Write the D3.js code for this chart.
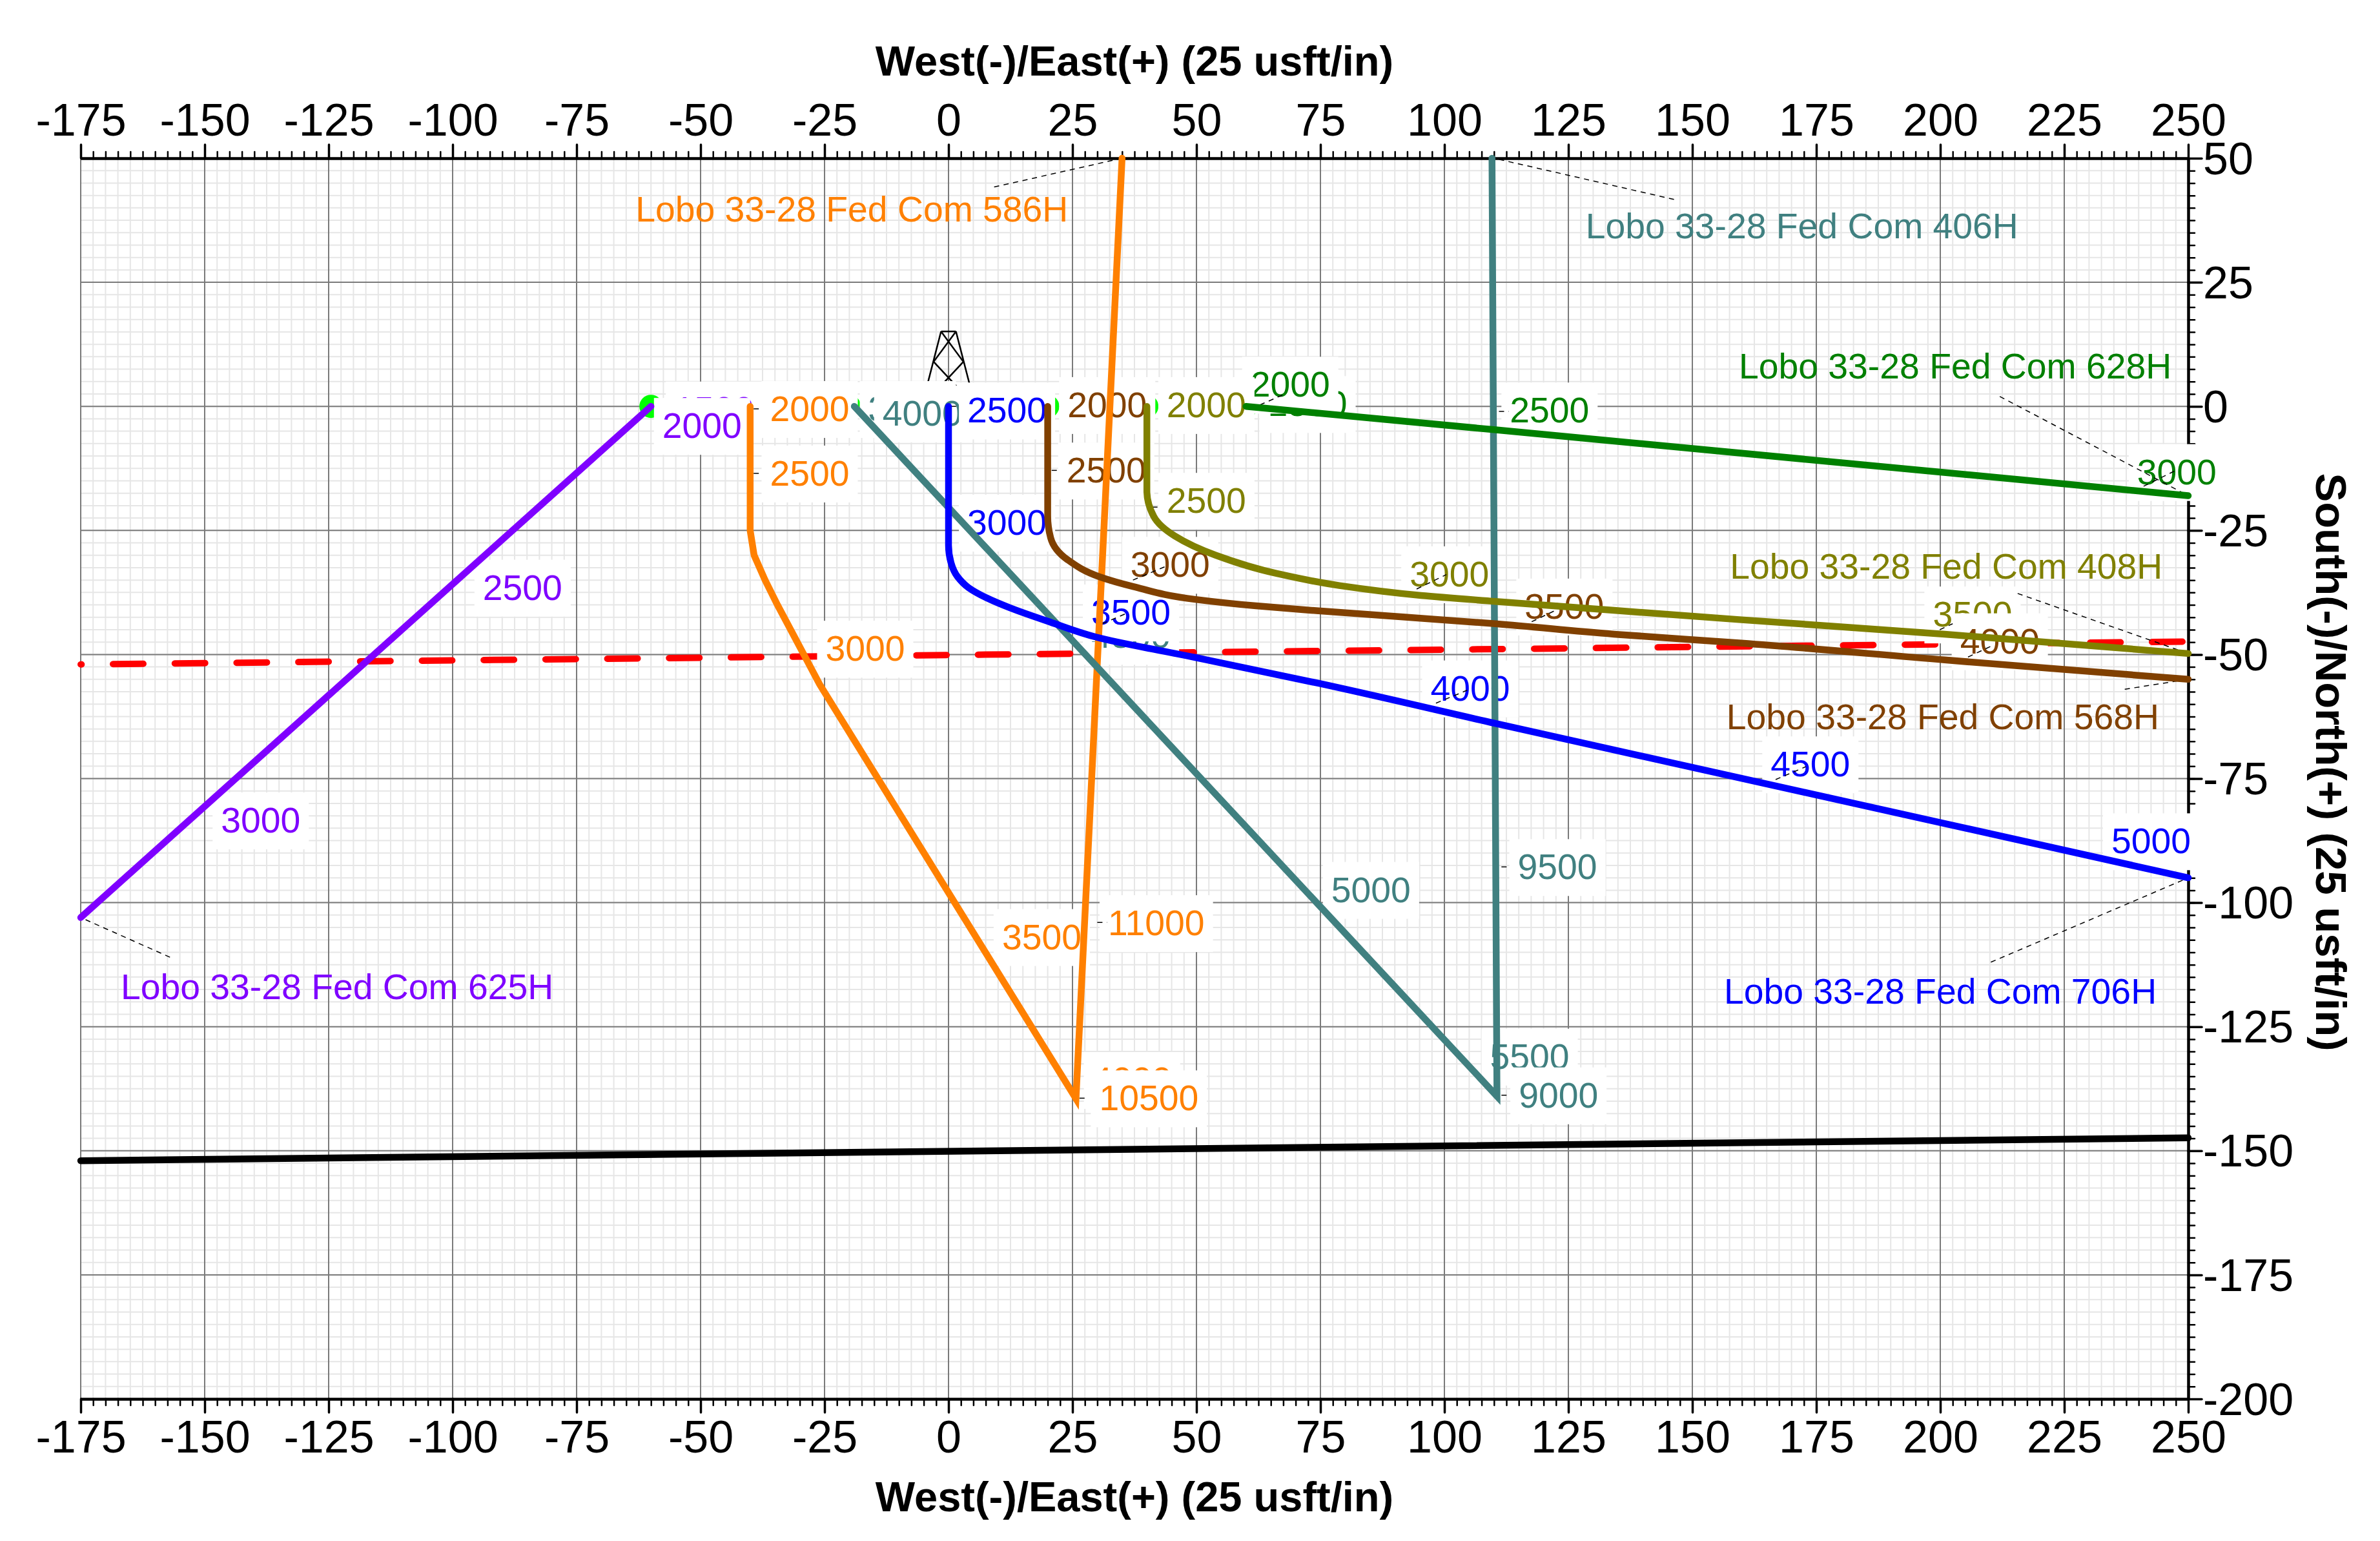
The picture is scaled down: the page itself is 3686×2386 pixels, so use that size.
<!DOCTYPE html>
<html>
<head>
<meta charset="utf-8">
<script src="https://cdn.jsdelivr.net/npm/d3@7/dist/d3.min.js"></script>
<style>
  html, body { margin: 0; padding: 0; background: #fff; }
  text { font-family: "Liberation Sans", Arial, sans-serif; }
</style>
</head>
<body>
<div id="chart"></div>
<script>
const xTicks = [-175, -150, -125, -100, -75, -50, -25, 0, 25, 50, 75, 100, 125, 150, 175, 200, 225, 250];
const yTicks = [50, 25, 0, -25, -50, -75, -100, -125, -150, -175, -200];
const xTitle = "West(-)/East(+) (25 usft/in)";
const yTitle = "South(-)/North(+) (25 usft/in)";

// well paths, [east, north]
const path625H = [[-60, 0], [-175, -103]];
const path586H = [[-40, 0], [-40, -25], [-39.2, -30], [-37, -35], [-34.5, -40], [-30.5, -47.5], [-26, -56], [25.7, -139.5], [35, 50]];
const path406H = [[-19, 0], [110.6, -139], [109.6, 50]];
const path706H = [[0, 0], [0, -28], [0.5, -31.5], [1.8, -34.3], [4, -36.5], [7.7, -38.6], [12.4, -40.6], [20.6, -43.5], [29.8, -46.5], [49.8, -50.6], [74.6, -55.8], [110.3, -63.9], [250, -95]];
const path568H = [[20, 0], [20, -22], [20.6, -26.5], [24, -30.9], [30.6, -34.4], [37.2, -36.3], [49.8, -38.9], [62, -40.2], [74.6, -41.2], [110.3, -43.8], [134.2, -45.9], [159.9, -47.7], [200.9, -51.1], [250, -55]];
const path408H = [[40, 0], [40, -17], [41.4, -22.2], [45.6, -26.1], [53.9, -30], [66.3, -33.7], [78.8, -36.1], [95.3, -38.1], [110.3, -39.3], [134.2, -41.1], [159.9, -43], [200.9, -45.9], [250, -49.8]];
const path628H = [[60, 0], [110, -4.7], [250, -18]];
const hardLineRed = [[-175, -52], [250, -47.4]];
const hardLineBlack = [[-175, -152], [250, -147.4]];

// surface holes, east offset along north = 0
const surfaceEast = [-60, -40, -20, 0, 20, 40, 60];

// depth labels, [text, east, north] of the label centre
const labels625H = [["1500", -47.3, -0.6], ["2000", -49.7, -3.9], ["2500", -85.9, -36.5], ["3000", -138.7, -83.4]];
const labels586H = [["2000", -28, -0.5], ["2500", -28, -13.5], ["3000", -16.8, -48.8], ["3500", 18.8, -106.9], ["11000", 41.9, -104.1], ["4000", 37, -135.7], ["10500", 40.4, -139.4]];
const labels406H = [["3500", -8.2, -0.5], ["4000", -5.3, -1.4], ["4500", 36.8, -46.2], ["5000", 85.2, -97.4], ["9500", 122.8, -92.8], ["5500", 117.2, -131], ["9000", 123, -138.8]];
const labels706H = [["2500", 11.8, -0.8], ["3000", 11.8, -23.4], ["3500", 36.8, -41.5], ["4000", 105.2, -56.8], ["4500", 173.8, -72.1], ["5000", 242.5, -87.6]];
const labels628H = [["1500", 72.4, 0.5], ["2000", 68.9, 4.4], ["2500", 121.2, -0.8], ["3000", 247.7, -13.2]];
const labels408H = [["2000", 52, 0.3], ["2500", 52, -19], ["3000", 101, -33.8], ["3500", 206.5, -41.9]];
const labels568H = [["2000", 32, 0.3], ["2500", 31.8, -12.9], ["3000", 44.7, -31.9], ["3500", 124.2, -40.3], ["4000", 212, -47.3]];

// well names, [text, east, north]
const wellNames = [
  ["Lobo 33-28 Fed Com 586H", -19.5, 39.7],
  ["Lobo 33-28 Fed Com 406H", 172.1, 36.3],
  ["Lobo 33-28 Fed Com 628H", 203, 8.1],
  ["Lobo 33-28 Fed Com 408H", 201.2, -32.2],
  ["Lobo 33-28 Fed Com 568H", 200.5, -62.6],
  ["Lobo 33-28 Fed Com 706H", 200, -117.9],
  ["Lobo 33-28 Fed Com 625H", -123.3, -117]
];
const wellColors = ["#ff8000", "#408080", "#008000", "#808000", "#804000", "#0000ff", "#7f00ff"];

// dashed leaders, [east1, north1, east2, north2]
const nameLeaders = [
  [9.2, 44.2, 35, 50], [146.3, 41.7, 110, 50], [212, 2, 250, -18], [215.6, -37.7, 250, -49.8],
  [237.2, -57, 250, -55], [210.2, -112, 250, -95], [-157, -111, -175, -103]
];
const depthLeaders = [
  [37.2, -35, 43.9, -32.2], [31, -43.8, 35.9, -41.7], [94.4, -36.8, 100.4, -33.9], [117.6, -43.4, 122.4, -41.1],
  [98.3, -59.8, 104.6, -57.2], [199.9, -45, 202.5, -43.8], [205.6, -50.5, 210.3, -48.3], [166.8, -75.2, 172.9, -72.6],
  [241, -16.1, 247.3, -13], [61, -0.5, 67.6, 2.4],
  [-39.3, -0.5, -37.6, -0.5], [-39.3, -13.5, -37.6, -13.5], [0.5, 0, 2.2, 0], [20.8, -12.9, 22.5, -12.9],
  [41.1, -20.3, 42.4, -20.3], [26.4, -139.4, 28.2, -139.4], [111.5, -138.8, 113.3, -138.8],
  [111.5, -92.8, 113.3, -92.8], [30, -104, 32, -104], [111, -1, 113, -1]
];

// rig symbol, [east, north] strokes
const rigStrokes = [
  [[-1.5, 15.1], [1.5, 15.1]],
  [[-1.5, 15.1], [-5.4, 0]],
  [[1.5, 15.1], [5.4, 0]],
  [[-1.5, 15.1], [3, 9], [-5.4, 0]],
  [[1.5, 15.1], [-3, 9], [5.4, 0]]
];

const width = 3686, height = 2386;
const plotLeft = 125, plotRight = 3389, plotTop = 245, plotBottom = 2166;

const x = d3.scaleLinear().domain([-175, 250]).range([plotLeft, plotRight]);
const y = d3.scaleLinear().domain([-200, 50]).range([plotBottom, plotTop]);

const svg = d3.select("#chart").append("svg")
  .attr("width", width)
  .attr("height", height)
  .style("display", "block");

const minorX = d3.range(-175, 250.1, 2.5);
const minorY = d3.range(-200, 50.1, 2.5);

function gridLines(cls, xs, ys, color, w) {
  const g = svg.append("g").attr("class", cls).attr("stroke", color).attr("stroke-width", w);
  g.selectAll("line.v").data(xs).join("line").attr("class", "v")
    .attr("x1", d => x(d)).attr("x2", d => x(d)).attr("y1", plotTop).attr("y2", plotBottom);
  g.selectAll("line.h").data(ys).join("line").attr("class", "h")
    .attr("y1", d => y(d)).attr("y2", d => y(d)).attr("x1", plotLeft).attr("x2", plotRight);
}
gridLines("minor", minorX, minorY, "#e6e6e6", 2);
gridLines("major", xTicks, yTicks, "#7a7a7a", 2);

// axes: minor ticks first, then majors with labels
function styleAxis(g, tickW) {
  g.select(".domain").attr("stroke", "#000").attr("stroke-width", 4);
  g.selectAll(".tick line").attr("stroke", "#000").attr("stroke-width", tickW).attr("stroke-linecap", "round");
  g.selectAll(".tick text").attr("fill", "#000").attr("font-size", 70).attr("font-family", "Liberation Sans");
}
const axisMakers = [
  [d3.axisTop(x), `translate(0,${plotTop})`, minorX, xTicks, 14],
  [d3.axisBottom(x), `translate(0,${plotBottom})`, minorX, xTicks, 12],
  [d3.axisRight(y), `translate(${plotRight},0)`, minorY, yTicks, 2]
];
axisMakers.forEach(([axis, tr, minor, major, pad], i) => {
  const gMinor = svg.append("g").attr("transform", tr)
    .call(axis.tickValues(minor).tickSize(10).tickSizeOuter(0).tickFormat(""));
  styleAxis(gMinor, 2.5);
  const gMajor = svg.append("g").attr("transform", tr)
    .call(axis.tickValues(major).tickSize(21).tickSizeOuter(0).tickPadding(pad).tickFormat(d => String(d)));
  styleAxis(gMajor, 3.5);
  if (i === 2) gMajor.selectAll(".tick text").attr("x", 23).attr("dy", "0.345em");
});

// rig and surface holes sit under the depth labels
svg.append("g").selectAll("circle").data(surfaceEast).join("circle")
  .attr("cx", d => x(d)).attr("cy", y(0)).attr("r", 18).attr("fill", "#00ff00");

const line = d3.line().x(d => x(d[0])).y(d => y(d[1]));

svg.append("g").selectAll("path").data(rigStrokes).join("path")
  .attr("d", line).attr("fill", "none").attr("stroke", "#000").attr("stroke-width", 2.5);

const hardLines = [[hardLineBlack, "#000", null, 10.5], [hardLineRed, "#ff0000", "47 48.7", 10]];
hardLines.forEach(([pts, color, dash, w]) => {
  svg.append("path").attr("d", line(pts)).attr("fill", "none").attr("stroke", color)
    .attr("stroke-width", w).attr("stroke-linecap", "round")
    .attr("stroke-dasharray", dash).attr("stroke-dashoffset", dash ? -50 : null);
});

// depth labels: white box then text, later wells cover earlier ones
const labelSets = [
  [labels625H, "#7f00ff"], [labels586H, "#ff8000"], [labels406H, "#408080"], [labels706H, "#0000ff"],
  [labels628H, "#008000"], [labels408H, "#808000"], [labels568H, "#804000"]
];
const labelFont = 55.3;
labelSets.forEach(([labels, color]) => {
  labels.forEach(([txt, e, n]) => {
    const g = svg.append("g");
    const box = g.append("rect").attr("fill", "#fff");
    const t = g.append("text").attr("x", x(e)).attr("y", y(n)).attr("dy", "0.345em")
      .attr("text-anchor", "middle").attr("font-size", labelFont).attr("fill", color).text(txt);
    const w = t.node().getComputedTextLength() + 26;
    box.attr("x", x(e) - w / 2).attr("width", w).attr("y", y(n) - 43).attr("height", 88);
  });
});

svg.append("g").selectAll("text").data(wellNames).join("text")
  .attr("x", d => x(d[1])).attr("y", d => y(d[2])).attr("dy", "0.345em")
  .attr("text-anchor", "middle").attr("font-size", labelFont)
  .attr("fill", (d, i) => wellColors[i]).text(d => d[0]);

svg.append("g").selectAll("line").data(nameLeaders.concat(depthLeaders)).join("line")
  .attr("x1", d => x(d[0])).attr("y1", d => y(d[1]))
  .attr("x2", d => x(d[2])).attr("y2", d => y(d[3]))
  .attr("stroke", "#000").attr("stroke-width", 1.5).attr("stroke-dasharray", "8 7");

// well paths go over everything else
const wellPaths = [
  [path625H, "#7f00ff", d3.curveLinear], [path586H, "#ff8000", d3.curveLinear], [path406H, "#408080", d3.curveLinear],
  [path706H, "#0000ff", d3.curveMonotoneY], [path568H, "#804000", d3.curveMonotoneY],
  [path408H, "#808000", d3.curveMonotoneY], [path628H, "#008000", d3.curveLinear]
];
wellPaths.forEach(([pts, color, curve]) => {
  svg.append("path").attr("d", d3.line().x(d => x(d[0])).y(d => y(d[1])).curve(curve)(pts))
    .attr("fill", "none").attr("stroke", color).attr("stroke-width", 10.5)
    .attr("stroke-linecap", "round").attr("stroke-linejoin", "miter").attr("stroke-miterlimit", 20);
});

// axis titles
svg.append("text").attr("x", (plotLeft + plotRight) / 2).attr("y", 117).attr("text-anchor", "middle")
  .attr("font-size", 65).attr("font-weight", "bold").text(xTitle);
svg.append("text").attr("x", (plotLeft + plotRight) / 2).attr("y", 2340).attr("text-anchor", "middle")
  .attr("font-size", 65).attr("font-weight", "bold").text(xTitle);
svg.append("text").attr("transform", "translate(3587,1180) rotate(90)").attr("text-anchor", "middle")
  .attr("font-size", 67).attr("font-weight", "bold").text(yTitle);
</script>
</body>
</html>
